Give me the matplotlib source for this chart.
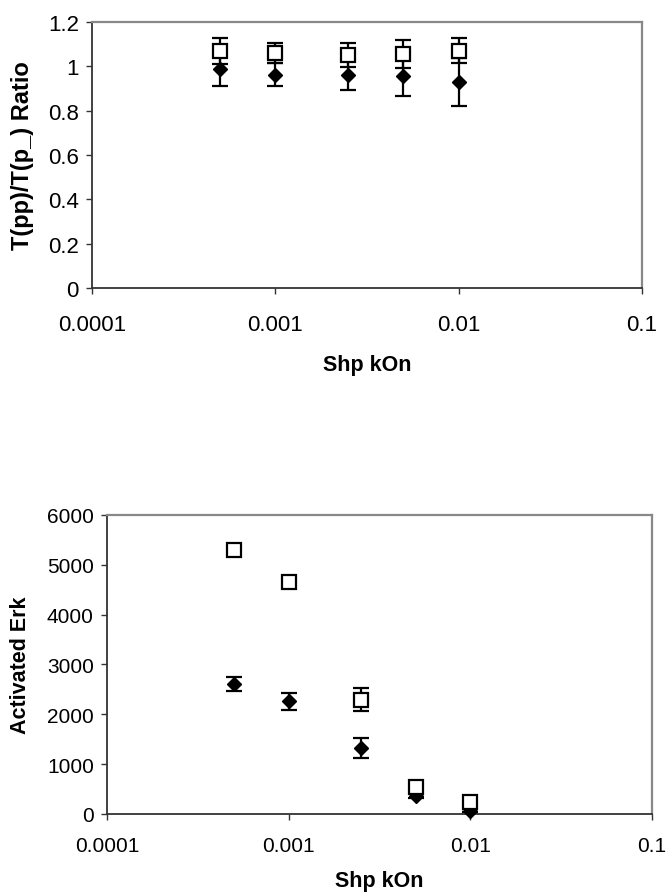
import matplotlib.pyplot as plt

# Shp kOn values (shared by both panels)
kon = [0.0005, 0.001, 0.0025, 0.005, 0.01]

# top panel: T(pp)/T(p_) ratio
ratio_sq = [1.07, 1.06, 1.05, 1.055, 1.07]
ratio_sq_err = [0.058, 0.047, 0.055, 0.062, 0.056]
ratio_dia = [0.99, 0.962, 0.962, 0.958, 0.928]
ratio_dia_err = [0.079, 0.052, 0.067, 0.09, 0.108]

# bottom panel: activated Erk
erk_sq = [5300, 4650, 2295, 536, 247]
erk_sq_err = [40, 60, 225, 90, 60]
erk_dia = [2600, 2260, 1325, 368, 67]
erk_dia_err = [140, 170, 205, 50, 30]

plt.rcParams['font.family'] = ['Liberation Sans', 'DejaVu Sans']

fig = plt.figure(figsize=(6.68, 8.95), dpi=100)
ax1 = fig.add_axes([0.1377, 0.6771, 0.8234, 0.2972])
ax2 = fig.add_axes([0.1602, 0.0894, 0.8159, 0.3341])


def style(ax, ylim, yticks, ylabel, tsize, lsize, xpad, ylab_x, xlab_y):
    ax.set_xscale('log')
    ax.set_xlim(1e-4, 0.1)
    ax.set_ylim(*ylim)
    ax.set_xticks([1e-4, 1e-3, 1e-2, 1e-1])
    ax.set_xticklabels(['0.0001', '0.001', '0.01', '0.1'])
    ax.xaxis.set_minor_locator(plt.NullLocator())
    ax.set_yticks(yticks)
    ax.tick_params(direction='out', length=4.5, width=1, labelsize=tsize,
                   color='#333333', pad=5)
    ax.tick_params(axis='x', pad=xpad)
    for s in ['left', 'bottom']:
        ax.spines[s].set_color('#333333')
        ax.spines[s].set_linewidth(1.3)
    for s in ['top', 'right']:
        ax.spines[s].set_color('#888888')
        ax.spines[s].set_linewidth(1.6)
    ax.set_xlabel('Shp kOn', fontsize=15.5, fontweight='bold', va='center')
    ax.xaxis.set_label_coords(0.5, xlab_y)
    ax.set_ylabel(ylabel, fontsize=lsize, fontweight='bold', va='center')
    ax.yaxis.set_label_coords(ylab_x, 0.5)


def draw(ax, y_dia, e_dia, y_sq, e_sq):
    ax.errorbar(kon, y_dia, yerr=e_dia, fmt='D', color='black', ms=7.6,
                ecolor='black', elinewidth=1.6, capsize=6, capthick=1.6,
                clip_on=False, zorder=3)
    ax.errorbar(kon, y_sq, yerr=e_sq, fmt='s', mfc='white', mec='black',
                mew=1.6, ms=9.5, ecolor='black', elinewidth=1.6, capsize=6,
                capthick=1.6, clip_on=False, zorder=4)


draw(ax1, ratio_dia, ratio_dia_err, ratio_sq, ratio_sq_err)
style(ax1, (0, 1.2), [0, 0.2, 0.4, 0.6, 0.8, 1, 1.2], 'T(pp)/T(p_) Ratio',
      16, 17, 14, -0.127, -0.289)
ax1.set_yticklabels(['0', '0.2', '0.4', '0.6', '0.8', '1', '1.2'])

draw(ax2, erk_dia, erk_dia_err, erk_sq, erk_sq_err)
style(ax2, (0, 6000), [0, 1000, 2000, 3000, 4000, 5000, 6000], 'Activated Erk',
      15, 15.5, 11, -0.158, -0.221)

fig.savefig('out.png', dpi=100)
